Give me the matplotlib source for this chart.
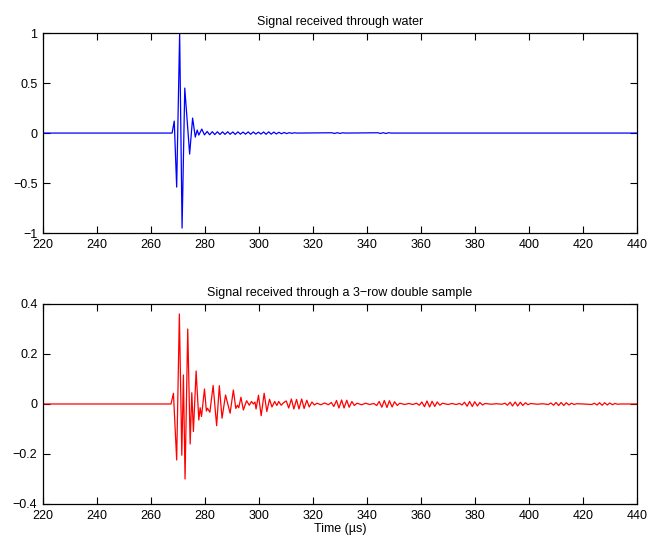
import numpy as np
import matplotlib.pyplot as plt

plt.rcParams['font.family'] = ['Liberation Sans', 'DejaVu Sans']
plt.rcParams['font.size'] = 9

# turning points of the trace received through water (time in us, amplitude)
water_t = [220, 267.8, 268.6, 269.5, 270.6, 271.5, 272.5, 274.3, 275.4, 276.4, 277.1, 277.7, 278.8,
           279.8, 280.8, 281.7, 282.7, 283.6, 284.6, 285.5, 286.5, 287.4, 288.4, 289.3, 290.3,
           291.2, 292.2, 293.1, 294.1, 295.0, 296.0, 296.9, 297.9, 298.8, 299.8, 300.7, 301.7,
           302.6, 303.6, 304.5, 305.5, 306.4, 307.4, 308.3, 309.3, 310.2, 311.2, 312.1, 313.1,
           314.0, 327.0, 328.0, 329.0, 330.0, 331.0, 332.0, 344.0, 345.0, 346.0, 347.0, 348.0,
           349.0, 440]
water_v = [0, 0, 0.12, -0.54, 1.0, -0.95, 0.45, -0.21, 0.15, -0.04, 0.03, -0.02, 0.04,
           -0.018, 0.016, -0.017, 0.014, -0.015, 0.013, -0.014, 0.012, -0.013, 0.013, -0.012, 0.011,
           -0.013, 0.012, -0.011, 0.010, -0.011, 0.012, -0.012, 0.011, -0.010, 0.009, -0.010, 0.011,
           -0.012, 0.012, -0.011, 0.010, -0.009, 0.008, -0.007, 0.006, -0.005, 0.004, -0.003, 0.003,
           0, 0.003, -0.004, 0.004, -0.004, 0.003, 0, 0.003, -0.004, 0.004, -0.004, 0.003,
           0, 0]

# turning points of the trace received through the 3-row double sample
sample_t = [220, 267.4, 268.3, 269.5, 270.5, 271.4, 272.0, 272.6, 273.6, 274.5, 275.1, 275.7,
            276.7, 277.7, 278.2, 278.7, 279.8, 280.5, 280.9, 281.8, 283.0, 284.3, 285.3, 286.3,
            287.6, 289.3, 290.5, 291.4, 292.0, 292.5, 293.3, 294.2, 295.4, 296.4, 297.2, 297.9,
            298.5, 298.9, 299.8, 300.8, 301.9, 302.9, 303.9, 304.8, 305.8, 306.6, 307.3, 308.2,
            309.2, 310.1, 311.0, 312.0, 312.9, 313.9, 314.8, 315.8, 316.7, 317.7, 318.6, 319.6,
            320.5, 321.5, 322.9, 324.3, 325.7, 326.8, 327.7, 328.7, 329.6, 330.6, 331.5, 332.5,
            333.4, 334.4, 335.3, 336.3, 338.0, 339.5, 341.0, 342.5, 343.6, 344.5, 345.5, 346.4,
            347.4, 348.3, 349.3, 350.2, 351.2, 352.1, 354.0, 355.5, 357.0, 358.3, 359.4, 360.3,
            361.3, 362.2, 363.2, 364.1, 365.1, 366.0, 367.0, 367.9, 370.0, 371.5, 373.0, 374.3,
            375.2, 376.1, 377.1, 378.0, 379.0, 379.9, 380.9, 381.8, 382.8, 383.7, 386.0, 388.0,
            390.0, 391.1, 392.0, 393.0, 393.9, 394.9, 395.8, 396.8, 397.7, 398.7, 399.6, 400.6,
            403.0, 405.0, 407.2, 408.1, 409.1, 410.0, 411.0, 411.9, 412.9, 413.8, 414.8, 415.7,
            416.7, 417.6, 420.0, 423.3, 424.2, 425.2, 426.1, 427.1, 428.0, 429.0, 429.9, 430.9,
            431.8, 432.8, 434.0, 440]
sample_v = [0, 0, 0.043, -0.224, 0.36, -0.205, 0.116, -0.30, 0.30, -0.16, 0.045, -0.11,
            0.132, -0.064, -0.015, -0.05, 0.06, -0.028, -0.017, -0.033, 0.074, -0.087, 0.073, -0.057,
            0.036, -0.037, 0.056, -0.018, -0.005, -0.015, 0.027, -0.024, 0.013, -0.005, 0.010, 0.0,
            0.008, -0.02, 0.035, -0.047, 0.043, -0.03, 0.019, -0.012, 0.010, -0.006, 0.010, -0.005,
            0.006, 0.012, -0.016, 0.020, -0.020, 0.018, -0.020, 0.020, -0.018, 0.015, -0.012, 0.008,
            -0.004, 0.003, -0.003, 0.004, -0.003, 0.006, -0.010, 0.014, -0.016, 0.016, -0.016, 0.015,
            -0.013, 0.010, -0.006, 0.003, -0.003, 0.003, -0.002, 0.002, -0.006, 0.010, -0.013, 0.014,
            -0.014, 0.013, -0.012, 0.009, -0.006, 0.003, -0.002, 0.002, -0.002, 0.003, -0.005, 0.008,
            -0.011, 0.012, -0.012, 0.011, -0.010, 0.008, -0.005, 0.003, -0.002, 0.002, -0.002, 0.002,
            -0.004, 0.007, -0.009, 0.010, -0.010, 0.009, -0.008, 0.006, -0.004, 0.002, -0.001, 0.001,
            -0.001, 0.003, -0.005, 0.007, -0.008, 0.008, -0.008, 0.007, -0.006, 0.005, -0.003, 0.002,
            -0.001, 0.001, -0.002, 0.004, -0.005, 0.006, -0.006, 0.006, -0.006, 0.005, -0.004, 0.003,
            -0.002, 0.001, 0, -0.002, 0.003, -0.004, 0.005, -0.005, 0.005, -0.004, 0.004, -0.003,
            0.002, -0.001, 0, 0]

x_ticks = np.arange(220, 441, 20)
water_yticks = [-1, -0.5, 0, 0.5, 1]
sample_yticks = [-0.4, -0.2, 0, 0.2, 0.4]


def style_axes(ax):
    ax.tick_params(direction='in', top=True, right=True, length=5, width=0.8, pad=4)
    for s in ax.spines.values():
        s.set_linewidth(0.9)


fig = plt.figure(figsize=(6.59, 5.37), dpi=100)

ax1 = fig.add_axes([0.0653, 0.566, 0.9013, 0.3724])
ax1.plot(water_t, water_v, color=(0, 0, 1), lw=0.9)
ax1.set_xlim(220, 440)
ax1.set_ylim(-1, 1)
ax1.set_xticks(x_ticks)
ax1.set_yticks(water_yticks)
ax1.set_yticklabels(['\u22121', '\u22120.5', '0', '0.5', '1'])
ax1.set_title('Signal received through water', fontsize=9, pad=6)
style_axes(ax1)

ax2 = fig.add_axes([0.0653, 0.0615, 0.9013, 0.3724])
ax2.plot(sample_t, sample_v, color=(1, 0, 0), lw=0.9)
ax2.set_xlim(220, 440)
ax2.set_ylim(-0.4, 0.4)
ax2.set_xticks(x_ticks)
ax2.set_yticks(sample_yticks)
ax2.set_yticklabels(['\u22120.4', '\u22120.2', '0', '0.2', '0.4'])
ax2.set_title('Signal received through a 3\u2212row double sample', fontsize=9, pad=6)
ax2.set_xlabel('Time (\u00b5s)', labelpad=1)
style_axes(ax2)

fig.savefig('out.png', dpi=100)
